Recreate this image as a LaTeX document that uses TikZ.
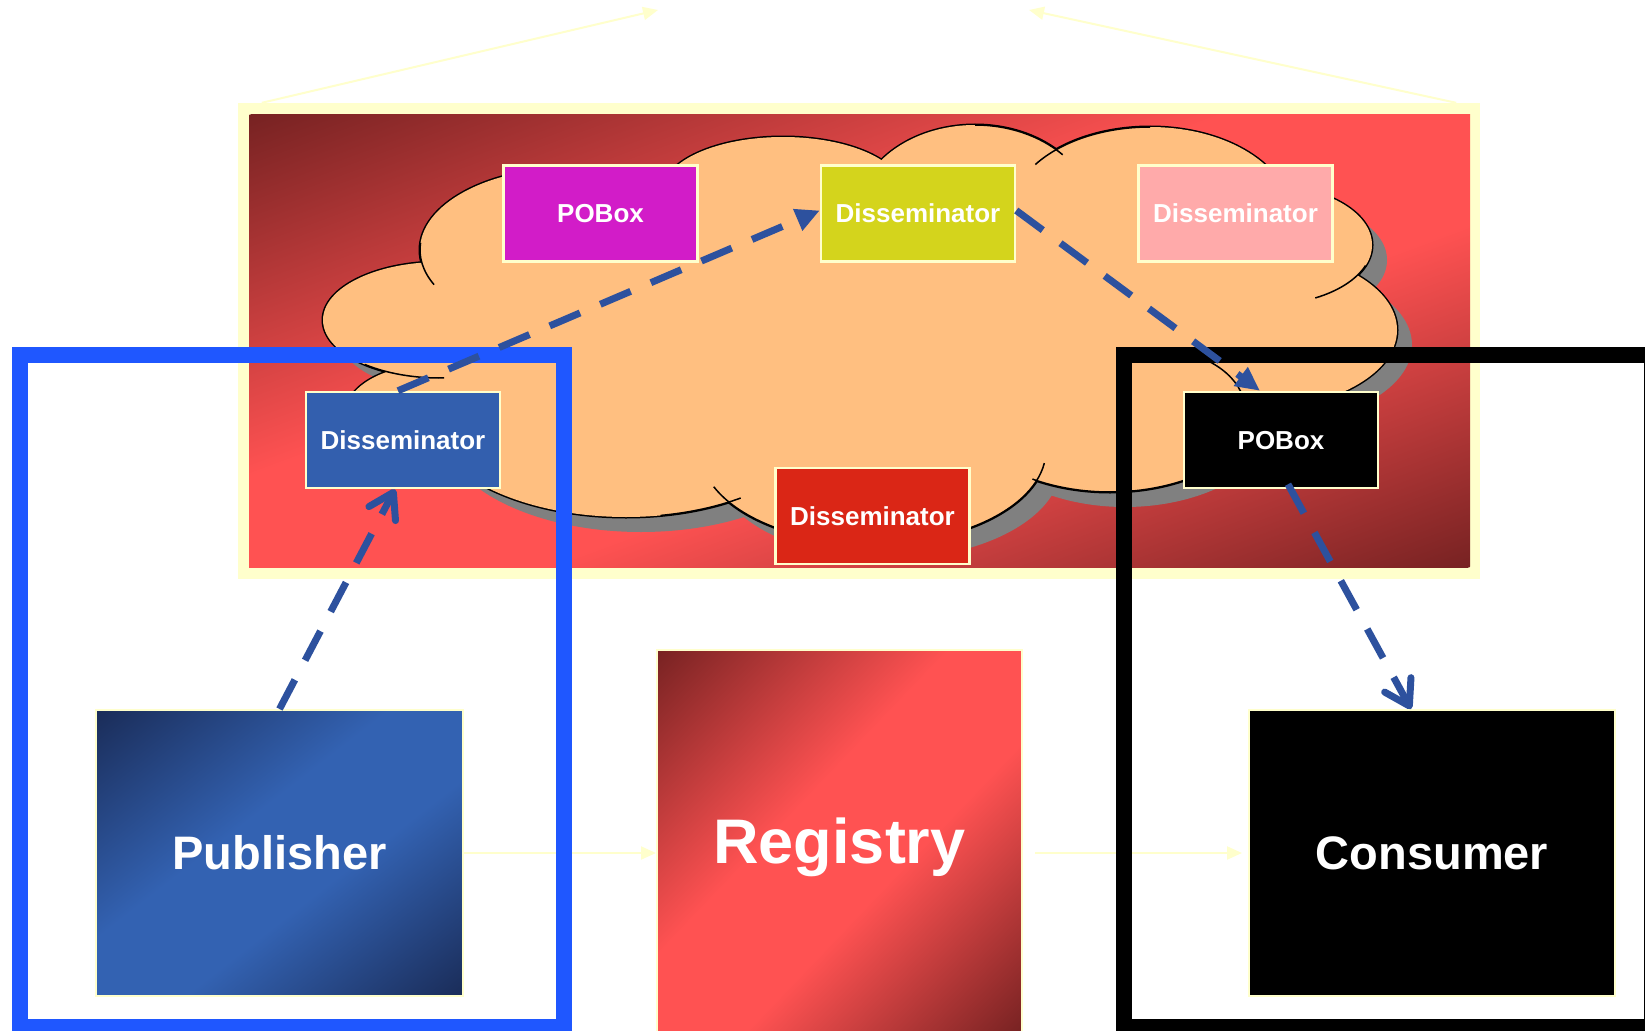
\documentclass[tikz,border=0pt]{standalone}
\usepackage{fontspec}
\setmainfont{Liberation Sans}
\usetikzlibrary{arrows.meta}
\definecolor{lyel}{HTML}{FFFFCC}
\definecolor{rdark}{HTML}{772222}
\definecolor{rbright}{HTML}{FF5252}
\definecolor{bdark}{HTML}{1A2C58}
\definecolor{bbright}{HTML}{3362B2}
\definecolor{peach}{HTML}{FFBF80}
\definecolor{shadowgray}{HTML}{808080}
\definecolor{magbox}{HTML}{D21CC8}
\definecolor{olivebox}{HTML}{D4D41C}
\definecolor{pinkbox}{HTML}{FFAAAA}
\definecolor{redbox}{HTML}{DA2616}
\definecolor{bluebox}{HTML}{335FAE}
\definecolor{frameblue}{HTML}{1F57FF}
\definecolor{arrowblue}{HTML}{2D519E}

\pgfdeclarehorizontalshading{redband}{100bp}{color(0bp)=(rdark); color(25bp)=(rdark);
  color(45bp)=(rbright); color(56bp)=(rbright); color(75bp)=(rdark); color(100bp)=(rdark)}
\pgfdeclarehorizontalshading{blueband}{100bp}{color(0bp)=(bdark); color(25bp)=(bdark);
  color(45bp)=(bbright); color(56bp)=(bbright); color(75bp)=(bdark); color(100bp)=(bdark)}

\newcommand{\diagshade}[5]{%
  \begin{scope}
    \clip (#1,#2) rectangle (#3,#4);
    \pgfmathsetmacro{\gw}{(#3-#1)/100}
    \pgfmathsetmacro{\gh}{(#4-#2)/100}
    \pgfmathsetmacro{\gd}{veclen(\gw,\gh)}
    \pgfmathsetmacro{\gL}{100*\gw*\gh/\gd}
    \pgfmathsetmacro{\gD}{100*\gd}
    \pgfmathsetmacro{\gphi}{atan2(-\gw,\gh)}
    \pgfmathsetmacro{\gcx}{(#1+#3)/2}
    \pgfmathsetmacro{\gcy}{(#2+#4)/2}
    \shade[transform canvas={rotate around={\gphi:(\gcx,\gcy)}}, shading=#5]
      (\gcx-\gL,\gcy-\gD) rectangle (\gcx+\gL,\gcy+\gD);
  \end{scope}}

\def\lobelist{440/320/117/58, 570/250/150/82, 783/191/120/54, 975/215/118/90,
  1150/215/140/88, 1265/245/107/60, 1250/330/147/80, 1110/389/160/103,
  873/450/173/94, 626/412/200/105, 430/415/85/50, 850/320/400/150}

\begin{document}
\begin{tikzpicture}[x=1pt,y=-1pt,
  smallbox/.style={draw=lyel, line width=2.5pt, minimum width=194pt, minimum height=96pt,
    inner sep=0pt, text=white, font=\fontsize{26}{30}\selectfont\bfseries,
    text height=18.6pt, text depth=0pt},
  bigbox/.style={draw=lyel, line width=2pt, inner sep=0pt, text=white,
    font=\fontsize{47}{56}\selectfont\bfseries, text height=33.7pt, text depth=0pt},
  thinarrow/.style={draw=lyel, line width=2pt, -{Triangle[length=15pt,width=13pt]}},
  dasharrow/.style={draw=arrowblue, line width=7pt, dash pattern=on 33pt off 22pt},
  barbtip/.style={-{Straight Barb[length=24pt,width=30pt,round]}},
  tritip/.style={-{Triangle[length=24pt,width=22pt]}},
  cloudline/.style={draw=black, line width=1.5pt}]

\useasboundingbox[fill=white] (0,0) rectangle (1645,1030);

% yellow frame with red gradient
\node[fill=lyel, minimum width=1242pt, minimum height=476pt, inner sep=0pt] (frame) at (859,341) {};
\diagshade{249}{115}{1470}{567}{redband}

% top arrows
\path (frame.north west) ++(24,0) coordinate (ftl);
\path (frame.north east) ++(-24,0) coordinate (ftr);
\coordinate (tlend) at (658,10);
\coordinate (trend) at (1029,10);
\draw[thinarrow] (ftl) -- (tlend);
\draw[thinarrow] (ftr) -- (trend);

% cloud
\foreach \a/\b/\c/\d in \lobelist {\fill[shadowgray] (\a+15,\b+15) ellipse[x radius=\c, y radius=\d];}
\foreach \a/\b/\c/\d in \lobelist {\draw[black, line width=3pt] (\a,\b) ellipse[x radius=\c, y radius=\d];}
\foreach \a/\b/\c/\d in \lobelist {\fill[peach] (\a,\b) ellipse[x radius=\c, y radius=\d];}
\draw[cloudline] (1265,245) ++(20:107 and 60) arc[start angle=20,end angle=62,x radius=107,y radius=60];
\draw[cloudline] (1150,410) ++(-82:95 and 62) arc[start angle=-82,end angle=-8,x radius=95,y radius=62];
\draw[cloudline] (873,450) ++(8:173 and 94) arc[start angle=8,end angle=157,x radius=173,y radius=94];
\draw[cloudline] (440,320) ++(88:117 and 58) arc[start angle=88,end angle=130,x radius=117,y radius=58];
\draw[cloudline] (570,250) ++(155:150 and 82) arc[start angle=155,end angle=185,x radius=150,y radius=82];
\draw[cloudline] (626,412) ++(55:200 and 105) arc[start angle=55,end angle=80,x radius=200,y radius=105];
\draw[cloudline] (975,215) ++(-90:118 and 90) arc[start angle=-90,end angle=-42,x radius=118,y radius=90];
\draw[cloudline] (1150,215) ++(-145:140 and 88) arc[start angle=-145,end angle=-90,x radius=140,y radius=88];
\draw[cloudline] (1110,389) ++(60:160 and 103) arc[start angle=60,end angle=119,x radius=160,y radius=103];

% small boxes
\node[smallbox, fill=magbox] (pob1) at (600.5,213.5) {POBox};
\node[smallbox, fill=olivebox] (dis2) at (918,213.5) {Disseminator};
\node[smallbox, fill=pinkbox] (dis3) at (1235.5,213.5) {Disseminator};
\node[smallbox, fill=redbox] (dis4) at (872.5,516) {Disseminator};
\node[smallbox, fill=black] (pob2) at (1281,440) {POBox};
\node[smallbox, fill=bluebox] (dis1) at (403,440) {Disseminator};

% big boxes
\diagshade{96}{710}{463}{996}{blueband}
\node[bigbox, minimum width=367pt, minimum height=286pt] (pub) at (279.5,853) {Publisher};
\diagshade{657}{650}{1022}{1032}{redband}
\node[bigbox, minimum width=365pt, minimum height=382pt,
  font=\fontsize{63}{75}\selectfont\bfseries, text height=45pt] (reg) at (839.5,841) {Registry};
\node[bigbox, fill=black, minimum width=366pt, minimum height=286pt] (con) at (1432,853) {Consumer};

\draw[thinarrow] (pub.east) -- (pub.east -| reg.west);
\path (reg.east |- con.west) ++(12,0) coordinate (regout);
\path (con.west) ++(-6,0) coordinate (conin);
\draw[thinarrow] (regout) -- (conin);

% frames
\draw[frameblue, line width=16pt] (20,355) rectangle (564,1027);
\draw[black, line width=16pt] (1124,355) rectangle (1652,1027);

% dashed arrows
\draw[dasharrow, barbtip] (pub.north) -- ([xshift=-8pt]dis1.south);
\draw[dasharrow, tritip] ([xshift=-5pt]dis1.north) -- ([yshift=3pt]dis2.west);
\draw[dasharrow, tritip] ([yshift=3pt]dis2.east) -- ([xshift=-21pt]pob2.north);
\draw[dasharrow, barbtip] ([xshift=7pt,yshift=5pt]pob2.south) -- ([xshift=-21pt]con.north);
\end{tikzpicture}
\end{document}
